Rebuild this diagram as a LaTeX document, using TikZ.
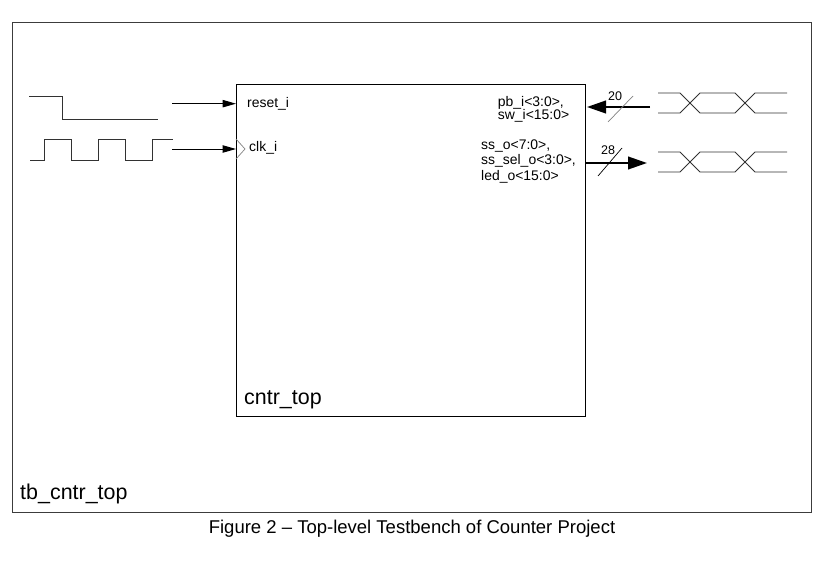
\documentclass[tikz,border=0pt]{standalone}
\usepackage{fontspec}
\setmainfont{Liberation Sans}
\usetikzlibrary{positioning, arrows.meta}
\definecolor{framegray}{RGB}{60, 60, 60}
\definecolor{wavegray}{RGB}{50, 50, 50}
\definecolor{slashgray}{RGB}{130, 130, 130}
\tikzset{
    blockbox/.style={draw=#1, line width=0.8pt, inner sep=0pt, outer sep=0pt},
    portlbl/.style={inner sep=0pt, anchor=base west, font=\fontsize{11.9}{12}\selectfont},
    buslbl/.style={inner sep=0pt, font=\fontsize{10.7}{12}\selectfont},
    namelbl/.style={inner sep=0pt, anchor=base west, font=\fontsize{18.3}{22}\selectfont},
    sigarr/.style={-{Triangle[length=0.4cm, width=0.22cm]}, line width=0.8pt},
    busarr/.style={-{Triangle[length=0.57cm, width=0.38cm]}, line width=1.7pt},
    wave/.style={draw=wavegray, line width=0.8pt},
}
\begin{document}
\begin{tikzpicture}
    \useasboundingbox (0,0) rectangle (25.2,17.31);

    \node[blockbox=framegray, minimum width=23.97cm, minimum height=14.7cm] (tb) at (12.345, 9.3) {};
    \node[blockbox=black, minimum width=10.47cm, minimum height=9.96cm] (cntr) at (12.315, 9.81) {};

    \node[namelbl] (tbname) at (0.6, 2.34) {tb\_cntr\_top};
    \node[namelbl] (cntrname) at (7.32, 5.19) {cntr\_top};

    \node[portlbl] (rst) at (7.41, 14.07) {reset\_i};
    \node[portlbl] (clk) at (7.47, 12.75) {clk\_i};
    \node[portlbl] (pb) at (14.93, 14.11) {pb\_i<3:0>,};
    \node[portlbl] (sw) at (14.93, 13.72) {sw\_i<15:0>};
    \node[portlbl] (ss) at (14.43, 12.83) {ss\_o<7:0>,};
    \node[portlbl] (sssel) at (14.43, 12.36) {ss\_sel\_o<3:0>,};
    \node[portlbl] (led) at (14.43, 11.89) {led\_o<15:0>};

    % clock marker
    \draw[slashgray, line width=0.6pt] (7.08, 13.14) -- (7.35, 12.84) -- (7.08, 12.54);

    % stimulus waveforms
    \draw[wave] (0.87, 14.41) -- (1.86, 14.41) -- (1.86, 13.74) -- (4.74, 13.74);
    \draw[wave] (0.9, 12.51) -- (1.32, 12.51)
        \foreach \i in {0,1} {
            -- ++(0, 0.61) -- ++(0.81, 0) -- ++(0, -0.61) -- ++(0.81, 0)
        }
        -- ++(0, 0.61) -- ++(0.63, 0);

    \coordinate (rstsrc) at (5.16, 14.2);
    \coordinate (clksrc) at (5.16, 12.84);
    \draw[sigarr] (rstsrc) -- (rstsrc -| cntr.west);
    \draw[sigarr] (clksrc) -- (clksrc -| cntr.west);

    % bus waveforms
    \foreach \y in {14.52, 12.75} {
        \draw[wave] (19.74, \y) -- (20.4, \y) -- (21.0, \y-0.6) -- (22.05, \y-0.6) -- (22.65, \y) -- (23.61, \y);
        \draw[wave] (19.74, \y-0.6) -- (20.4, \y-0.6) -- (21.0, \y) -- (22.05, \y) -- (22.65, \y-0.6) -- (23.61, \y-0.6);
    }

    \coordinate (pbsrc) at (19.5, 14.1);
    \coordinate (ssdst) at (19.41, 12.42);
    \draw[busarr] (pbsrc) -- ([xshift=0.06cm]pbsrc -| cntr.east);
    \draw[busarr] (ssdst -| cntr.east) -- (ssdst);

    \draw[slashgray, line width=0.6pt] (18.24, 13.65) -- (18.99, 14.43);
    \draw[black, line width=0.6pt] (17.94, 12.03) -- (18.66, 12.87);
    \node[buslbl] (pbw) at (18.45, 14.43) {20};
    \node[buslbl] (ssw) at (18.24, 12.81) {28};

    \node[inner sep=0pt, anchor=base, font=\fontsize{15.8}{18}\selectfont] (cap) at (12.36, 1.32)
        {Figure 2 -- Top-level Testbench of Counter Project};

\end{tikzpicture}
\end{document}
